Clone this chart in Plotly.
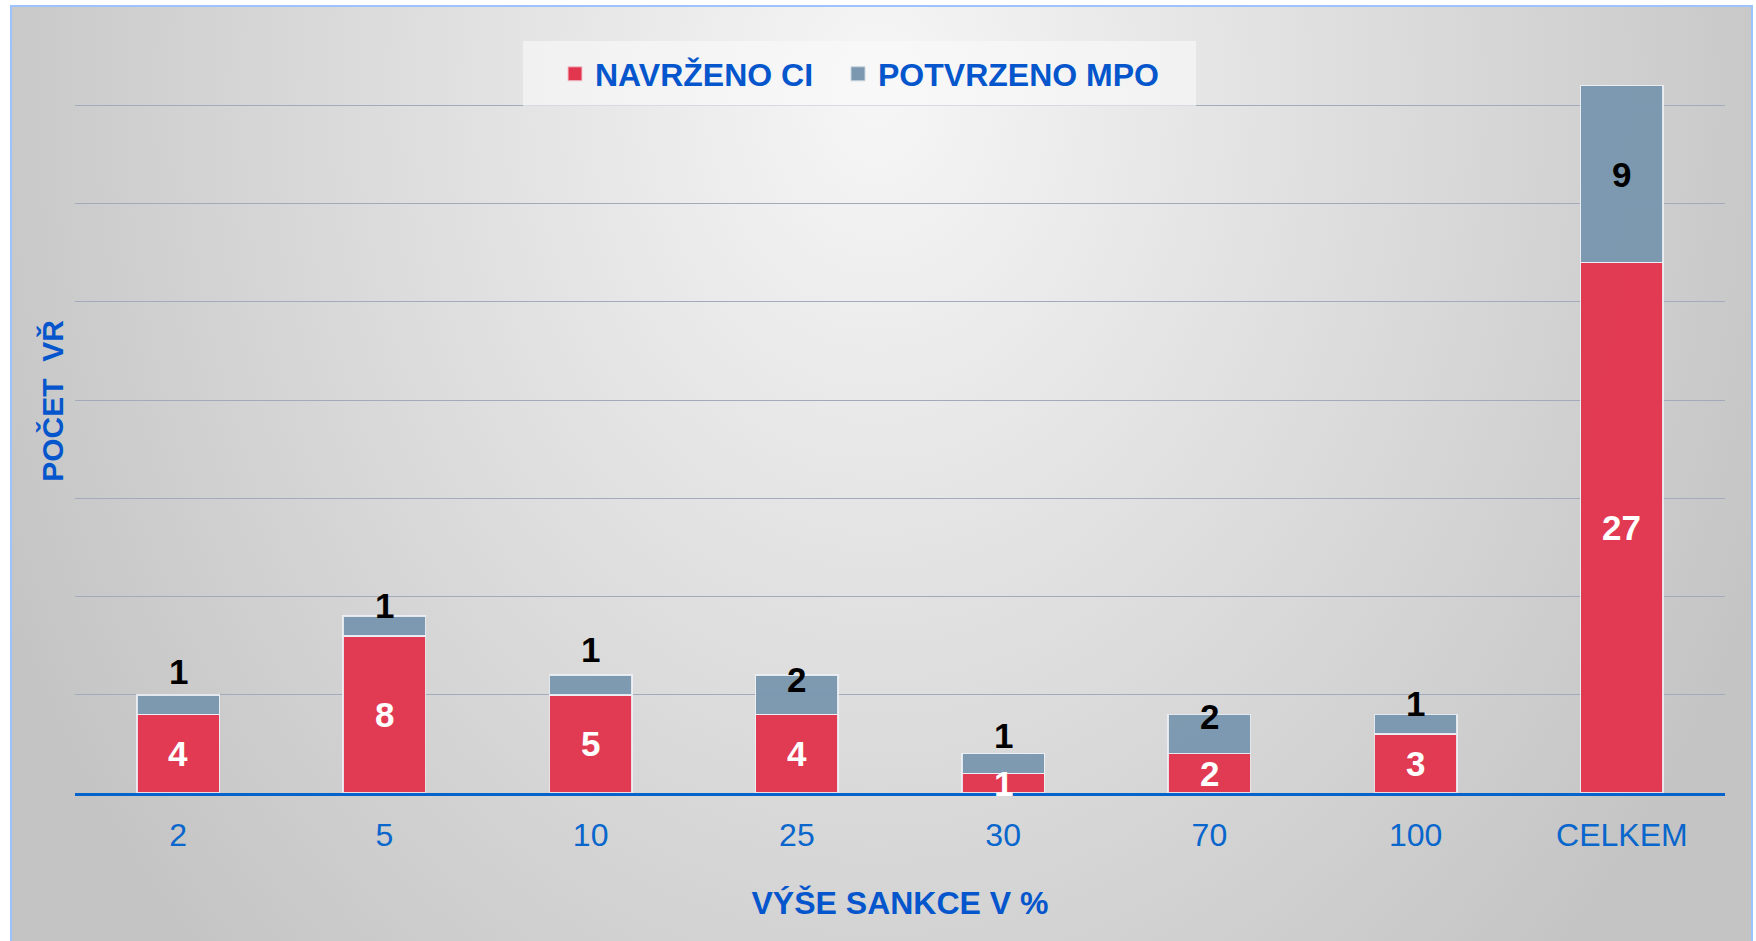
import base64
import plotly.graph_objects as go

# ---- data ----
categories = ["2", "5", "10", "25", "30", "70", "100", "CELKEM"]
navrzeno_ci = [4, 8, 5, 4, 1, 2, 3, 27]
potvrzeno_mpo = [1, 1, 1, 2, 1, 2, 1, 9]

series_names = ["NAVRŽENO CI", "POTVRZENO MPO"]
x_title = "VÝŠE SANKCE V %"
y_title = "POČET\u00a0\u00a0VŘ"
grid_vals = [5, 10, 15, 20, 25, 30, 35]

# ---- label offsets (px) to mimic hand-placed labels ----
gray_label_shift = [33, 20, 35, 15, 28, 18, 21, 0]

# ---- geometry ----
W, H = 1756, 941
ML, MR, MT, MB = 75, 31, 9, 148
PW, PH = W - ML - MR, H - MT - MB

RED = "#E2364F"
GRAY = "#7B98B0"
BLUE = "#0A62CC"
FONT = "Arial, 'Liberation Sans', sans-serif"

# background: radial grey gradient + light-blue frame
svg = f"""<svg xmlns='http://www.w3.org/2000/svg' width='{W}' height='{H}' viewBox='0 0 {W} {H}'>
<defs><radialGradient id='g' gradientUnits='userSpaceOnUse' cx='0' cy='0' r='1'
 gradientTransform='translate(878,94) scale(966,1223)'>
<stop offset='0' stop-color='#f6f6f6'/><stop offset='1' stop-color='#c4c4c4'/>
</radialGradient></defs>
<rect width='{W}' height='{H}' fill='#ffffff'/>
<rect x='11' y='6' width='1741' height='960' fill='url(#g)' stroke='#9cc3ff' stroke-width='2'/>
</svg>"""
bg_src = "data:image/svg+xml;base64," + base64.b64encode(svg.encode()).decode()

bar_line = dict(color="rgba(238,242,246,0.9)", width=1.5)

fig = go.Figure()
fig.add_trace(go.Bar(
    x=categories, y=navrzeno_ci, name=series_names[0],
    marker=dict(color=RED, line=bar_line), opacity=0.97,
    showlegend=False, legendgroup="a",
))
fig.add_trace(go.Bar(
    x=categories, y=potvrzeno_mpo, name=series_names[1],
    marker=dict(color=GRAY, line=bar_line), opacity=0.97,
    showlegend=False, legendgroup="b",
))
# legend entries with larger square swatches
fig.add_trace(go.Scatter(
    x=[None], y=[None], mode="markers", name=series_names[0], legendgroup="a",
    marker=dict(symbol="square", size=14, color=RED, line=dict(color="#f0c0c8", width=1)),
    legendwidth=238,
))
fig.add_trace(go.Scatter(
    x=[None], y=[None], mode="markers", name=series_names[1], legendgroup="b",
    marker=dict(symbol="square", size=14, color=GRAY, line=dict(color="#c8d4de", width=1)),
    legendwidth=300,
))

annotations = []
for i, c in enumerate(categories):
    r = navrzeno_ci[i]
    g = potvrzeno_mpo[i]
    annotations.append(dict(
        x=i, y=r / 2, xref="x", yref="y", text=f"<b>{r}</b>", showarrow=False,
        xanchor="center", yanchor="middle",
        font=dict(family=FONT, size=35, color="white"),
    ))
    annotations.append(dict(
        x=i, y=r + g / 2, xref="x", yref="y", text=f"<b>{g}</b>", showarrow=False,
        yshift=gray_label_shift[i], xanchor="center", yanchor="middle",
        font=dict(family=FONT, size=35, color="black"),
    ))

fig.update_layout(
    width=W, height=H,
    margin=dict(l=ML, r=MR, t=MT, b=MB, autoexpand=False),
    paper_bgcolor="white",
    plot_bgcolor="rgba(0,0,0,0)",
    barmode="stack",
    bargap=0.6,
    font=dict(family=FONT, color=BLUE),
    showlegend=True,
    legend=dict(
        orientation="h", xref="paper", yref="paper",
        x=(555 - ML) / PW, xanchor="left",
        y=(H - MB - 74) / PH, yanchor="middle",
        bgcolor="rgba(0,0,0,0)", borderwidth=0,
        font=dict(family=FONT, size=32, color="#0556CC", weight="bold"),
        traceorder="normal", itemclick=False, itemdoubleclick=False,
    ),
    xaxis=dict(
        type="category",
        range=[-0.5, len(categories) - 0.5],
        showgrid=False,
        showline=True, linecolor="#0763CC", linewidth=3,
        ticks="", tickfont=dict(family=FONT, size=32, color="#0866CC"),
        ticklabelstandoff=12,
        title=dict(text=f"<b>{x_title}</b>", standoff=40,
                   font=dict(family=FONT, size=32, color="#0556CC")),
        fixedrange=True,
    ),
    yaxis=dict(
        range=[0, 39.9],
        tickvals=grid_vals,
        showticklabels=False,
        showgrid=True, gridcolor="#a2aabb", gridwidth=1.3,
        zeroline=False, showline=False, ticks="",
        title=dict(text=f"<b>{y_title}</b>", standoff=1,
                   font=dict(family=FONT, size=30, color="#0556CC")),
        fixedrange=True,
    ),
    images=[dict(
        source=bg_src, xref="paper", yref="paper",
        x=-ML / PW, y=1 + MT / PH, sizex=W / PW, sizey=H / PH,
        xanchor="left", yanchor="top", sizing="stretch", layer="below",
    )],
    shapes=[dict(
        type="rect", xref="paper", yref="paper", layer="above",
        x0=(523 - ML) / PW, x1=(1196 - ML) / PW,
        y0=(H - MB - 106) / PH, y1=(H - MB - 41) / PH,
        fillcolor="rgba(250,250,250,0.6)", line=dict(width=0),
    )],
    annotations=annotations,
)

fig.write_html(
    "out.html",
    config={"displayModeBar": False},
    post_script="document.body.style.margin='0';document.body.style.padding='0';",
)
